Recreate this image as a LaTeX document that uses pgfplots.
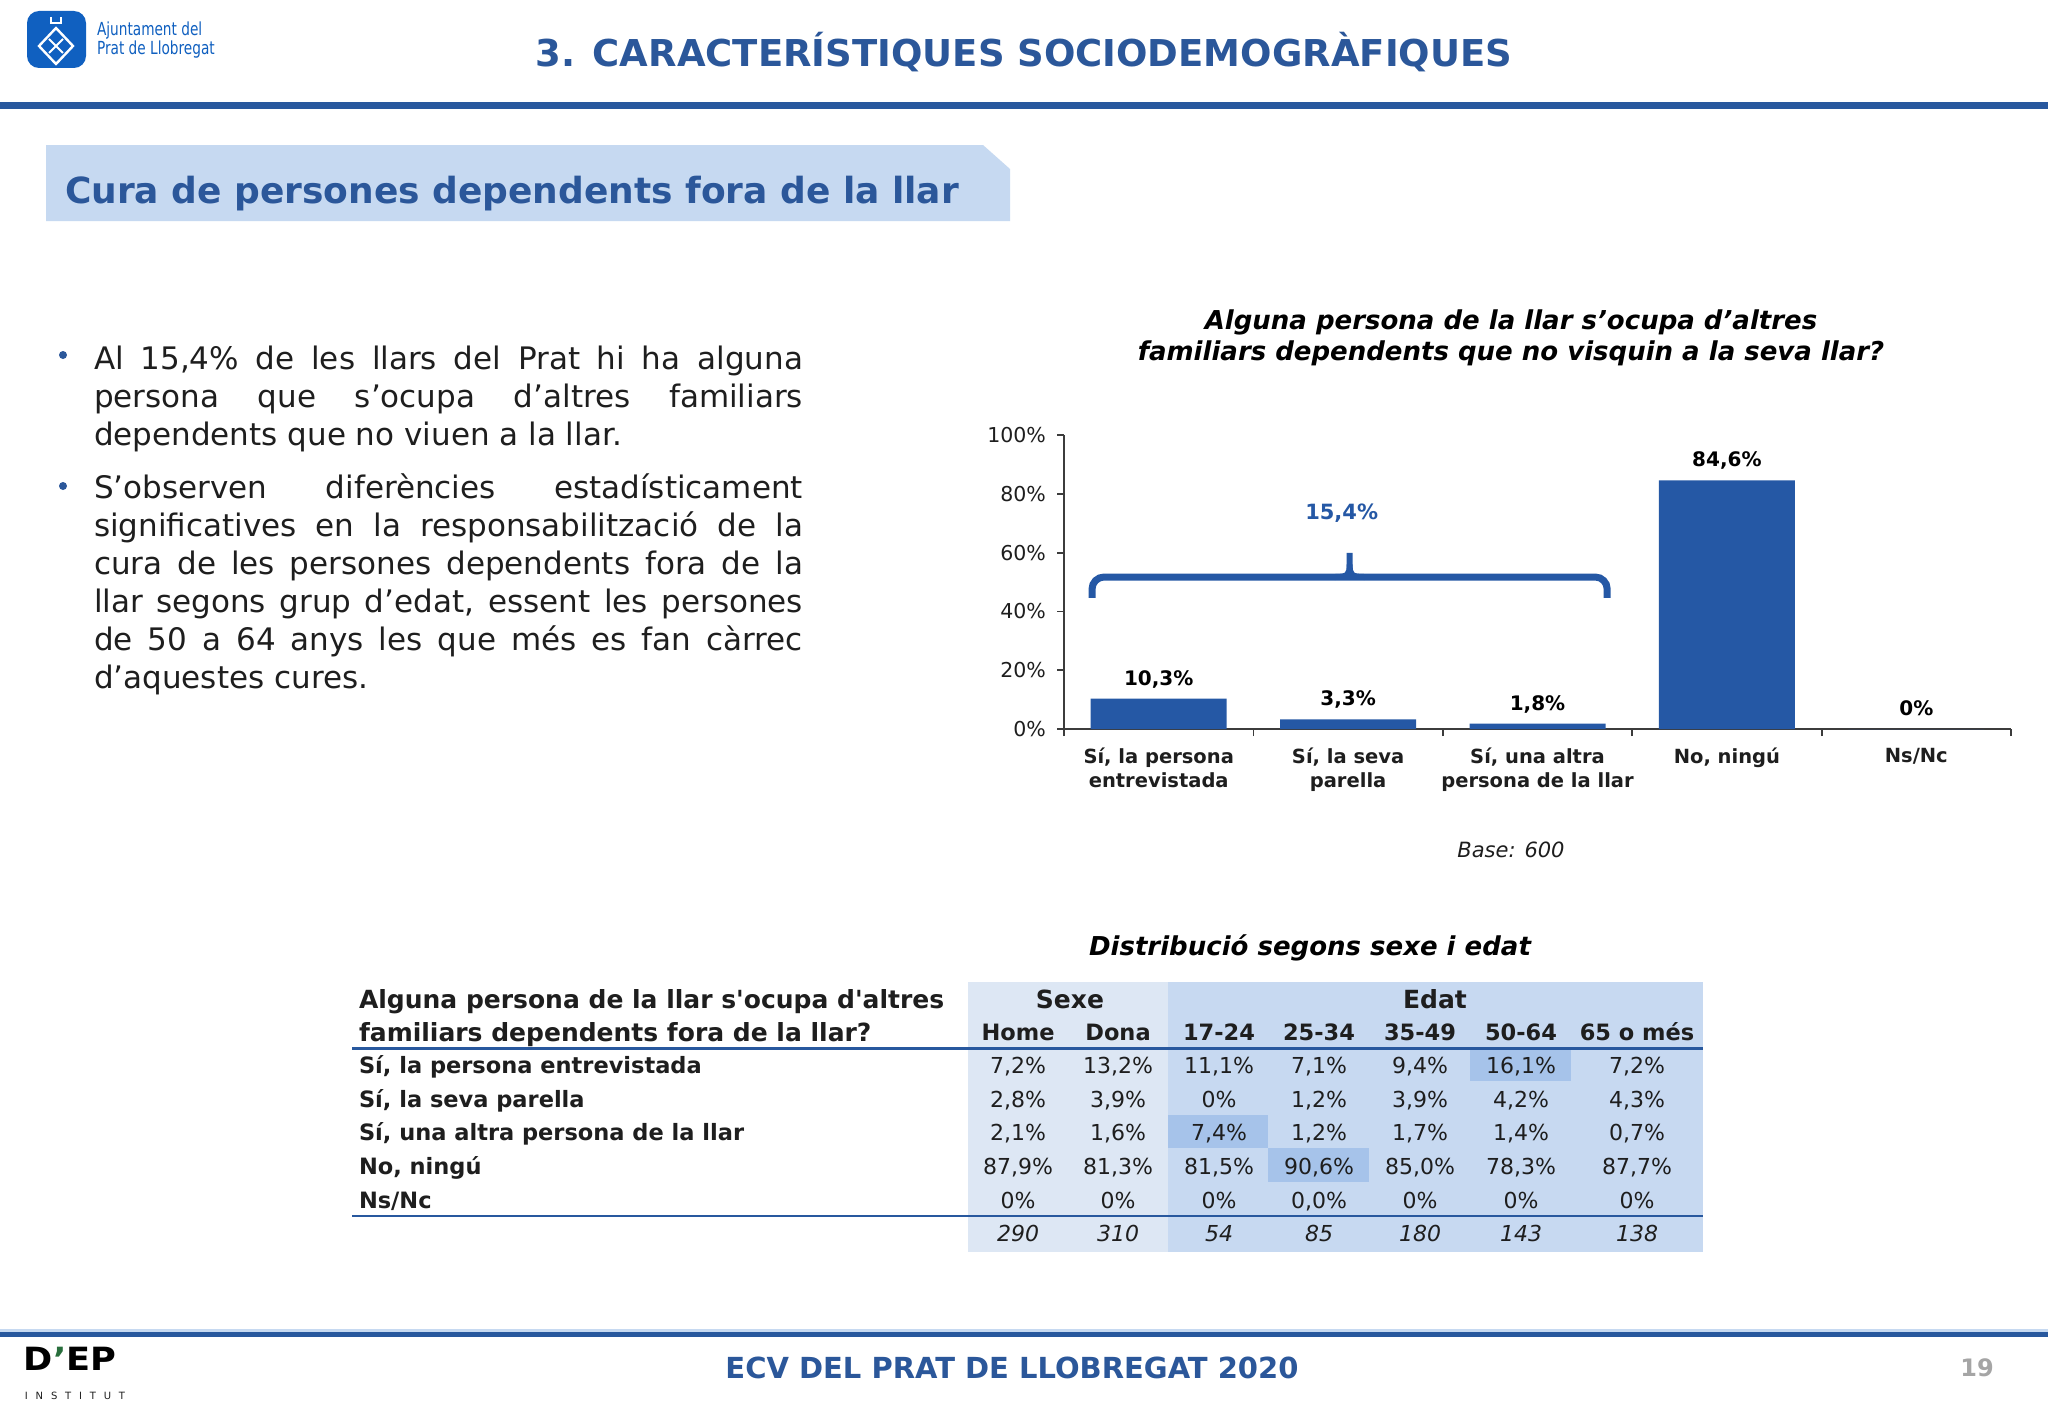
\documentclass[border=0pt]{standalone}
\usepackage{fontspec}
\setmainfont{DejaVu Sans}
\usepackage{pgfplots}
\pgfplotsset{compat=1.18}
\definecolor{titleblue}{RGB}{43,87,154}
\definecolor{ruleblue}{RGB}{40,88,158}
\definecolor{barblue}{RGB}{37,88,165}
\definecolor{boxblue}{RGB}{198,217,241}
\definecolor{sexebg}{RGB}{221,231,244}
\definecolor{edatbg}{RGB}{199,217,241}
\definecolor{hilite}{RGB}{166,195,234}
\definecolor{textgray}{RGB}{30,30,30}
\definecolor{axisgray}{RGB}{60,60,60}
\definecolor{pagegray}{RGB}{165,165,165}
\definecolor{logoblue}{RGB}{16,96,192}
\definecolor{depgreen}{RGB}{40,110,60}
\newcommand\fsz[2]{\fontsize{#1}{#2}\selectfont}
\newcommand\trow[8]{%
  \node[dat] at (1018,#1) {#2};
  \node[dat] at (1118,#1) {#3};
  \node[dat] at (1219,#1) {#4};
  \node[dat] at (1319,#1) {#5};
  \node[dat] at (1420,#1) {#6};
  \node[dat] at (1521,#1) {#7};
  \node[dat] at (1637,#1) {#8};}
\begin{document}
\begin{tikzpicture}[x=0.5pt,y=-0.5pt,t/.style={inner sep=0pt,outer sep=0pt},
  dat/.style={t,anchor=base,text=textgray,font=\fsz{11pt}{13pt}},
  rowl/.style={t,anchor=base west,text=textgray,font=\bfseries\fsz{11.25pt}{13pt}},
  subh/.style={t,anchor=base,text=textgray,font=\bfseries\fsz{11.25pt}{13pt}}]
\useasboundingbox (0,0) rectangle (2048,1418);
\fill[white] (0,0) rectangle (2048,1418);

% ---- logo
\fill[logoblue, rounded corners=6pt] (27,11) rectangle (86,68);
\draw[white, line width=1.2pt] (56,28) -- (73,46) -- (56,64) -- (39,46) -- cycle;
\draw[white, line width=0.9pt] (49,39)--(63,53) (63,39)--(49,53);
\draw[white, line width=0.9pt] (51,17) -- (51,23) -- (61,23) -- (61,17);
\node[t, anchor=base west, text=logoblue, font=\fsz{9pt}{10pt}] at (97,36) {\scalebox{0.76}[1]{Ajuntament del}};
\node[t, anchor=base west, text=logoblue, font=\fsz{9pt}{10pt}] at (97,55) {\scalebox{0.76}[1]{Prat de Llobregat}};

% ---- title
\node[t, anchor=base, text=titleblue, font=\bfseries\fsz{18.5pt}{20pt}] at (1024,67) {3. CARACTERÍSTIQUES SOCIODEMOGRÀFIQUES};
\fill[ruleblue] (0,102) rectangle (2048,109);

% ---- section header
\fill[boxblue] (46,145) -- (983,145) -- (1010,169) -- (1010,221) -- (46,221) -- cycle;
\node[t, anchor=base west, text=titleblue, font=\bfseries\fsz{18pt}{20pt}] at (65,203) {Cura de persones dependents fora de la llar};

% ---- bullets
\fill[titleblue] (63,355) circle (4);
\fill[titleblue] (63,486) circle (4);
\begin{scope}[every node/.style={t, anchor=base west, text=textgray, font=\fsz{15.5pt}{19pt}}]
\node at (94,369) {\makebox[354.5pt][s]{Al 15,4\% de les llars del Prat hi ha alguna}};
\node at (94,407) {\makebox[354.5pt][s]{persona que s’ocupa d’altres familiars}};
\node at (94,445) {dependents que no viuen a la llar.};
\node at (94,498) {\makebox[354.5pt][s]{S’observen diferències estadísticament}};
\node at (94,536) {\makebox[354.5pt][s]{significatives en la responsabilització de la}};
\node at (94,574) {\makebox[354.5pt][s]{cura de les persones dependents fora de la}};
\node at (94,612) {\makebox[354.5pt][s]{llar segons grup d’edat, essent les persones}};
\node at (94,650) {\makebox[354.5pt][s]{de 50 a 64 anys les que més es fan càrrec}};
\node at (94,688) {d’aquestes cures.};
\end{scope}

% ---- chart title
\node[t, anchor=base, font=\bfseries\itshape\fsz{13pt}{15pt}] at (1511,329.5) {Alguna persona de la llar s’ocupa d’altres};
\node[t, anchor=base, font=\bfseries\itshape\fsz{13pt}{15pt}] at (1511,360.5) {familiars dependents que no visquin a la seva llar?};

% ---- chart
\begin{axis}[
  at={(532pt,-364.5pt)}, anchor=south west,
  scale only axis, width=473.5pt, height=147pt,
  xmin=-0.5, xmax=4.5, ymin=0, ymax=100,
  axis lines=left, axis line style={-, draw=axisgray, line width=0.9pt},
  tick align=outside, major tick length=3.5pt,
  tick style={draw=axisgray, line width=0.9pt},
  ytick={0,20,40,60,80,100},
  yticklabels={0\%,20\%,40\%,60\%,80\%,100\%},
  yticklabel style={font=\fsz{10.25pt}{11pt}, text=textgray, xshift=-2pt},
  xtick={-0.5,0.5,1.5,2.5,3.5,4.5},
  xticklabels={,,,,,},
  extra x ticks={0,1,2,3,4},
  extra x tick labels={{Sí, la persona\\entrevistada},{Sí, la seva\\parella},{Sí, una altra\\persona de la llar},{No, ningú},{Ns/Nc}},
  extra x tick style={major tick length=0pt,
     tick label style={align=center, yshift=-6pt, text=textgray, font=\bfseries\fsz{9.75pt}{11.75pt}}},
  clip=false,
]
\addplot[ybar, bar width=68pt, fill=barblue, draw=none,
  point meta=explicit symbolic, nodes near coords,
  nodes near coords style={anchor=base, yshift=6.85pt, text=black, font=\bfseries\fsz{10pt}{12pt}}]
  coordinates {(0,10.3) [10,3\%] (1,3.3) [3,3\%] (2,1.8) [1,8\%] (3,84.6) [84,6\%] (4,0) [0\%]};
\draw[barblue, line width=3.5pt, rounded corners=6pt]
  (axis cs:-0.352,44.6) -- (axis cs:-0.352,51.7) -- (axis cs:2.368,51.7) -- (axis cs:2.368,44.6);
\draw[barblue, line width=3pt]
  (axis cs:0.93,51.7) .. controls (axis cs:1.0,51.7) and (axis cs:1.008,52.5) .. (axis cs:1.008,56)
  -- (axis cs:1.008,59.9);
\draw[barblue, line width=3pt]
  (axis cs:1.086,51.7) .. controls (axis cs:1.016,51.7) and (axis cs:1.008,52.5) .. (axis cs:1.008,56);
\node[anchor=base, inner sep=0pt, text=barblue, font=\bfseries\fsz{10.5pt}{12pt}] at (axis cs:0.966,71.4) {15,4\%};
\end{axis}

\node[t, anchor=base, font=\itshape\fsz{10.5pt}{12pt}, text=textgray] at (1511,857) {Base: 600};

% ---- table
\node[t, anchor=base, font=\bfseries\itshape\fsz{13pt}{15pt}] at (1310,955) {Distribució segons sexe i edat};
\fill[sexebg] (968,982) rectangle (1168,1252);
\fill[edatbg] (1168,982) rectangle (1703,1252);
\fill[hilite] (1470,1048) rectangle (1571,1081);
\fill[hilite] (1168,1115) rectangle (1268,1148);
\fill[hilite] (1268,1148) rectangle (1369,1182);
\draw[ruleblue, line width=1.5pt] (352,1048) -- (1703,1048);
\draw[ruleblue, line width=1.2pt] (352,1216) -- (1703,1216);
\node[t, anchor=base west, text=textgray, font=\bfseries\fsz{12.5pt}{14pt}] at (359,1008) {Alguna persona de la llar s\textquotesingle ocupa d\textquotesingle altres};
\node[t, anchor=base west, text=textgray, font=\bfseries\fsz{12.5pt}{14pt}] at (359,1041) {familiars dependents fora de la llar?};
\node[t, anchor=base, text=textgray, font=\bfseries\fsz{12.5pt}{14pt}] at (1070,1008) {Sexe};
\node[t, anchor=base, text=textgray, font=\bfseries\fsz{12.5pt}{14pt}] at (1435,1008) {Edat};
\node[subh] at (1018,1040) {Home};
\node[subh] at (1118,1040) {Dona};
\node[subh] at (1219,1040) {17-24};
\node[subh] at (1319,1040) {25-34};
\node[subh] at (1420,1040) {35-49};
\node[subh] at (1521,1040) {50-64};
\node[subh] at (1637,1040) {65 o més};
\node[rowl] at (359,1073) {Sí, la persona entrevistada};
\node[rowl] at (359,1107) {Sí, la seva parella};
\node[rowl] at (359,1140) {Sí, una altra persona de la llar};
\node[rowl] at (359,1174) {No, ningú};
\node[rowl] at (359,1208) {Ns/Nc};
\trow{1073}{7,2\%}{13,2\%}{11,1\%}{7,1\%}{9,4\%}{16,1\%}{7,2\%}
\trow{1107}{2,8\%}{3,9\%}{0\%}{1,2\%}{3,9\%}{4,2\%}{4,3\%}
\trow{1140}{2,1\%}{1,6\%}{7,4\%}{1,2\%}{1,7\%}{1,4\%}{0,7\%}
\trow{1174}{87,9\%}{81,3\%}{81,5\%}{90,6\%}{85,0\%}{78,3\%}{87,7\%}
\trow{1208}{0\%}{0\%}{0\%}{0,0\%}{0\%}{0\%}{0\%}
\begin{scope}[dat/.append style={font=\itshape\fsz{11pt}{13pt}}]
\trow{1241}{290}{310}{54}{85}{180}{143}{138}
\end{scope}

% ---- footer
\fill[boxblue] (0,1329) rectangle (2048,1332);
\fill[ruleblue] (0,1332) rectangle (2048,1337);
\node[t, anchor=base, text=titleblue, font=\bfseries\fsz{14.5pt}{16pt}] at (1012,1378) {ECV DEL PRAT DE LLOBREGAT 2020};
\node[t, anchor=base, text=pagegray, font=\bfseries\fsz{12pt}{14pt}] at (1977,1376) {19};
\node[t, anchor=base west, font=\bfseries\fsz{16pt}{18pt}] at (24,1370) {\scalebox{1.1}[1]{D{\color{depgreen}’}EP}};
\node[t, anchor=base west, font=\fsz{5pt}{6pt}, text=textgray] at (25,1399) {\makebox[50pt][s]{I\hfill N\hfill S\hfill T\hfill I\hfill T\hfill U\hfill T}};
\end{tikzpicture}
\end{document}
